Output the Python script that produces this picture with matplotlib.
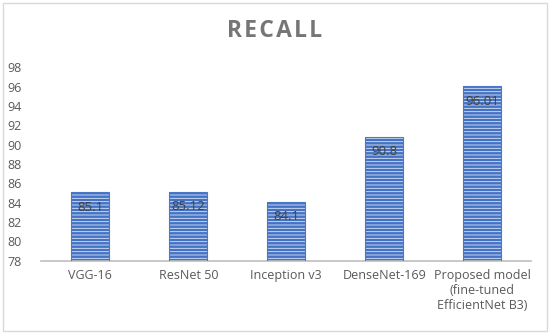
import matplotlib
matplotlib.use("Agg")
from matplotlib import pyplot as plt
from matplotlib.patches import Rectangle

models = ["VGG-16", "ResNet 50", "Inception v3", "DenseNet-169",
          "Proposed model\n(fine-tuned\nEfficientNet B3)"]
recall = [85.1, 85.12, 84.1, 90.8, 96.01]
labels = ["85.1", "85.12", "84.1", "90.8", "96.01"]
yticks = list(range(78, 100, 2))

plt.rcParams["font.family"] = ["Open Sans", "DejaVu Sans"]
plt.rcParams["hatch.linewidth"] = 0.6

fig = plt.figure(figsize=(5.5, 3.34), dpi=100)
ax = fig.add_axes([0.075, 0.219, 0.891, 0.58])

x = range(len(models))
ax.bar(x, recall, width=0.39, bottom=0, color="#4472C4", edgecolor="#DCE6F5",
       hatch="-----", linewidth=0, zorder=2)
ax.bar(x, recall, width=0.39, fill=False, edgecolor="#4A78C8",
       linewidth=0.8, zorder=3)

for xi, v, s in zip(x, recall, labels):
    ax.text(xi, v - 1.55, s, ha="center", va="center", fontsize=9.5,
            color="#404040", zorder=4)

ax.set_ylim(78, 98)
ax.set_xlim(-0.5, len(models) - 0.5)
ax.set_yticks(yticks)
ax.set_xticks(list(x))
ax.set_xticklabels(models, fontsize=9, color="#595959")
ax.tick_params(axis="y", labelsize=9, labelcolor="#595959", length=0, pad=14)
ax.tick_params(axis="x", length=0, pad=6)
for side in ["top", "right", "left"]:
    ax.spines[side].set_visible(False)
ax.spines["bottom"].set_color("#BFBFBF")
ax.spines["bottom"].set_linewidth(1.2)

fig.text(0.5, 0.907, "R E C A L L".replace(" ", "\u200a"), ha="center", va="center",
         fontsize=16.5, fontweight="bold", color="#767676")

fig.patches.append(Rectangle((0.005, 0.008), 0.99, 0.984, transform=fig.transFigure,
                             fill=False, edgecolor="#D9D9D9", linewidth=1))

fig.savefig("out.png", dpi=100, facecolor="white")
